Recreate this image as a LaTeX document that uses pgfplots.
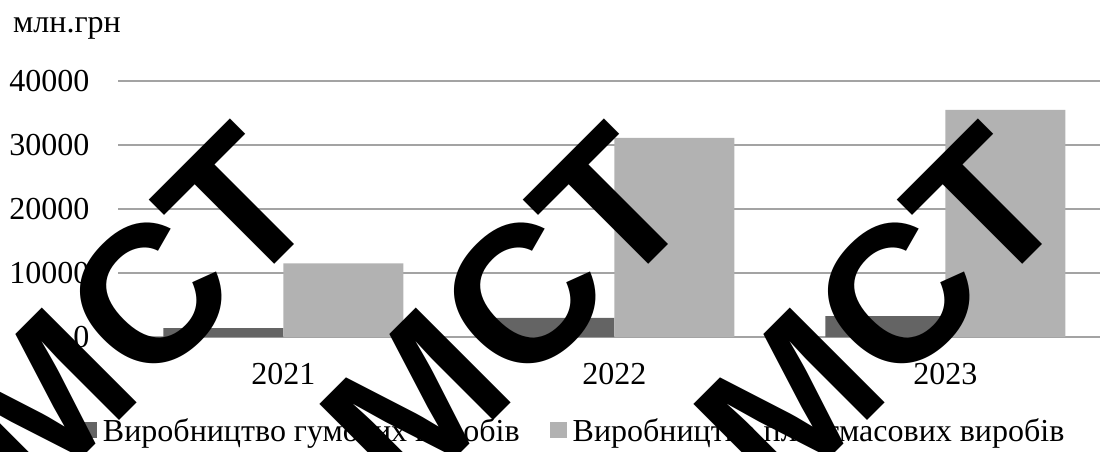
\documentclass[border=0pt]{standalone}
\usepackage{fontspec}
\setmainfont{Liberation Serif}
\newfontfamily\wmfont{Liberation Sans}
\usepackage{pgfplots}
\pgfplotsset{compat=1.18}
\definecolor{darkbar}{HTML}{646464}
\definecolor{lightbar}{HTML}{B2B2B2}
\definecolor{gridc}{HTML}{A3A3A3}
\begin{document}
\begin{tikzpicture}[x=1bp,y=1bp]
\path[use as bounding box] (0,0) rectangle (1100,-452);
\node[anchor=base west, inner sep=0, font=\fontsize{32bp}{36bp}\selectfont] at (13,-33) {млн.грн};
\begin{axis}[
  at={(118bp,-337bp)}, anchor=south west,
  scale only axis, width=982bp, height=256bp,
  xmin=-0.5, xmax=2.467, ymin=0, ymax=40000,
  ybar=0pt, bar width=120bp,
  xtick={0,1,2}, xticklabels={2021,2022,2023},
  ytick={0,10000,20000,30000,40000},
  scaled y ticks=false,
  /pgf/number format/set thousands separator={},
  /pgf/number format/assume math mode=true,
  ymajorgrids, major grid style={gridc, line width=1.6bp},
  axis line style={draw=none}, tick style={draw=none},
  major tick length=0pt,
  tick label style={font=\fontsize{32bp}{36bp}\selectfont},
  yticklabel style={xshift=-25bp},
  xticklabel style={yshift=-23bp},
  legend columns=2,
  legend style={at={(-0.0387,-0.365)}, anchor=west, draw=none,
    inner sep=0pt, outer sep=0pt,
    font=\fontsize{32bp}{36bp}\selectfont,
    nodes={inner sep=0pt},
    /tikz/every odd column/.append style={column sep=6bp},
    /tikz/every even column/.append style={column sep=30bp}},
  legend image code/.code={\fill[#1] (0bp,-8bp) rectangle (17bp,8bp);},
]
\addplot[fill=darkbar, draw=none] coordinates {(0,1400) (1,3000) (2,3250)};
\addplot[fill=lightbar, draw=none] coordinates {(0,11500) (1,31100) (2,35500)};
\legend{Виробництво гумових виробів, Виробництво пластмасових виробів}
\end{axis}
\foreach \cx in {132,506,880}{
  \node[rotate=45, inner sep=0, text=black, font=\wmfont\bfseries\fontsize{195bp}{195bp}\selectfont] at (\cx,-313) {МСТ};
}
\end{tikzpicture}
\end{document}
